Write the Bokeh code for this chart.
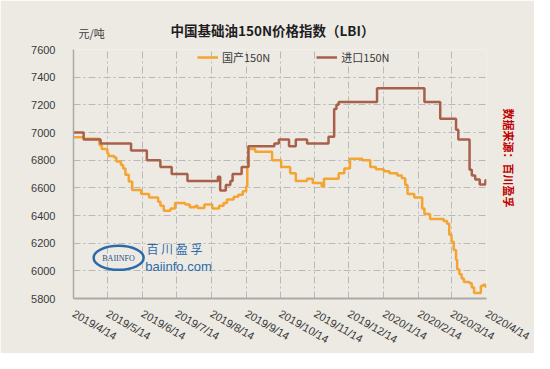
import pandas as pd
from math import pi
from bokeh.plotting import figure
from bokeh.models import (FixedTicker, Legend, LegendItem, Label, Range1d, ColumnDataSource,
                          Title, DatetimeAxis)
from bokeh.embed import file_html
from bokeh.resources import INLINE

# ---------------- data ----------------
title_text = "中国基础油150N价格指数（LBI）"
unit_text = "元/吨"
source_text = "数据来源：百川盈孚"
series_names = ["国产150N", "进口150N"]

dom_dates = ["2019-04-14", "2019-04-23", "2019-05-07", "2019-05-09", "2019-05-14", "2019-05-15",
             "2019-05-20", "2019-05-22", "2019-05-26", "2019-05-28", "2019-05-30", "2019-06-02",
             "2019-06-05", "2019-06-13", "2019-06-20", "2019-06-28", "2019-06-30", "2019-07-03",
             "2019-07-09", "2019-07-13", "2019-07-22", "2019-07-26", "2019-07-31", "2019-08-02",
             "2019-08-08", "2019-08-15", "2019-08-21", "2019-08-25", "2019-08-28", "2019-09-03",
             "2019-09-07", "2019-09-11", "2019-09-14", "2019-09-15", "2019-09-16", "2019-09-22",
             "2019-10-07", "2019-10-15", "2019-10-23", "2019-10-28", "2019-11-07", "2019-11-12",
             "2019-11-20", "2019-11-22", "2019-12-05", "2019-12-10", "2019-12-15", "2019-12-26",
             "2020-01-02", "2020-01-07", "2020-01-14", "2020-01-19", "2020-01-26", "2020-01-30",
             "2020-02-02", "2020-02-04", "2020-02-10", "2020-02-17", "2020-02-19", "2020-02-24",
             "2020-03-07", "2020-03-10", "2020-03-12", "2020-03-14", "2020-03-16", "2020-03-18",
             "2020-03-19", "2020-03-21", "2020-03-23", "2020-03-25", "2020-03-30", "2020-04-01",
             "2020-04-03", "2020-04-09", "2020-04-11", "2020-04-13", "2020-04-14"]
dom_vals = [6965, 6955, 6910, 6880, 6850, 6830,
            6820, 6790, 6765, 6740, 6695, 6645,
            6585, 6555, 6530, 6500, 6470, 6435,
            6450, 6490, 6480, 6460, 6470, 6455,
            6480, 6450, 6470, 6490, 6515, 6535,
            6550, 6575, 6610, 6750, 6880, 6860,
            6800, 6750, 6705, 6650, 6665, 6635,
            6610, 6665, 6705, 6740, 6810, 6800,
            6750, 6735, 6720, 6705, 6690, 6670,
            6620, 6555, 6530, 6450, 6410, 6375,
            6360, 6340, 6260, 6210, 6150, 6080,
            6010, 5975, 5945, 5920, 5910, 5880,
            5840, 5890, 5900, 5885, 5885]

imp_dates = ["2019-04-14", "2019-04-23", "2019-05-08", "2019-06-04", "2019-06-18", "2019-06-30",
             "2019-07-10", "2019-07-24", "2019-08-20", "2019-08-22", "2019-08-27", "2019-08-31",
             "2019-09-02", "2019-09-10", "2019-09-16", "2019-10-09", "2019-10-13", "2019-10-22",
             "2019-10-28", "2019-11-07", "2019-11-26", "2019-12-01", "2019-12-03", "2019-12-05",
             "2020-01-08", "2020-02-19", "2020-03-04", "2020-03-18", "2020-03-20", "2020-03-30",
             "2020-04-01", "2020-04-04", "2020-04-08", "2020-04-13", "2020-04-14"]
imp_vals = [7000, 6950, 6920, 6870, 6800, 6750,
            6700, 6650, 6680, 6580, 6620, 6650,
            6700, 6750, 6900, 6920, 6950, 6900,
            6950, 6920, 6970, 7170, 7200, 7220,
            7320, 7220, 7100, 7020, 6950, 6730,
            6690, 6660, 6625, 6655, 6655]

x_tick_dates = ["2019-04-14", "2019-05-14", "2019-06-14", "2019-07-14", "2019-08-14", "2019-09-14",
                "2019-10-14", "2019-11-14", "2019-12-14", "2020-01-14", "2020-02-14", "2020-03-14",
                "2020-04-14"]
x_tick_labels = ["2019/4/14", "2019/5/14", "2019/6/14", "2019/7/14", "2019/8/14", "2019/9/14",
                 "2019/10/14", "2019/11/14", "2019/12/14", "2020/1/14", "2020/2/14", "2020/3/14",
                 "2020/4/14"]
y_ticks = [5800, 6000, 6200, 6400, 6600, 6800, 7000, 7200, 7400, 7600]

# logo watermark text
logo_mark = "BAIINFO"
logo_cn = "百  川  盈  孚"
logo_url = "baiinfo.com"

# ---------------- style ----------------
BG = "#edeae4"
ORANGE = "#f4a531"
BROWN = "#a9604b"
GRID = "#b9b9b9"
LOGO = "#2d6aa8"
CJK = "Noto Sans CJK SC"
UNIT_AT = "2019-04-30"   # horizontal anchor of the unit text above the plot


def to_ms(d):
    return int((pd.Timestamp(d) - pd.Timestamp("1970-01-01")) // pd.Timedelta(milliseconds=1))


x_tick_ms = [to_ms(d) for d in x_tick_dates]

p = figure(width=534, height=353, x_axis_type="datetime", output_backend="svg",
           toolbar_location=None,
           x_range=Range1d(pd.Timestamp(x_tick_dates[0]), pd.Timestamp(x_tick_dates[-1])),
           y_range=Range1d(y_ticks[0], y_ticks[-1]),
           min_border_left=73, min_border_right=48, min_border_top=49, min_border_bottom=53)
p.background_fill_color = BG
p.border_fill_color = BG
p.outline_line_color = None

# unit text: an extra top axis with a single labelled tick (innermost top panel)
unit_ms = to_ms(UNIT_AT)
unit_axis = DatetimeAxis(ticker=FixedTicker(ticks=[unit_ms]),
                         major_label_overrides={unit_ms: unit_text},
                         axis_line_color=None, major_tick_line_color=None,
                         minor_tick_line_color=None, major_tick_out=0, minor_tick_out=0,
                         major_tick_in=0, minor_tick_in=0, major_label_standoff=9,
                         major_label_text_font=CJK, major_label_text_font_size="11px",
                         major_label_text_color="#3a3a3a")
p.add_layout(unit_axis, "above")

# title (outermost top panel, pulled down onto the unit's line)
p.title.text = title_text
p.title.align = "left"
p.title.offset = 97
p.title.standoff = -36
p.title.text_font = CJK
p.title.text_font_style = "bold"
p.title.text_font_size = "13.5px"
p.title.text_color = "#1e1e1e"

# data source note on the right, reading downward
p.add_layout(Title(text=source_text, align="left", offset=59, standoff=28,
                   text_font=CJK, text_font_style="bold", text_font_size="11px",
                   text_color="#c00000"), "right")

xt = FixedTicker(ticks=x_tick_ms)
yt = FixedTicker(ticks=y_ticks)
p.below[0].ticker = xt
p.yaxis.ticker = yt
p.xgrid.ticker = xt
p.ygrid.ticker = yt
for g in (p.xgrid, p.ygrid):
    g.grid_line_color = GRID
    g.grid_line_dash = "7 3 2 3"
    g.grid_line_width = 1

xax = p.below[0]
xax.major_label_overrides = {ms: lab for ms, lab in zip(x_tick_ms, x_tick_labels)}
xax.major_label_orientation = -pi / 6
xax.major_label_standoff = 8
p.yaxis.major_label_standoff = 12
for ax in (xax, p.yaxis[0]):
    ax.major_tick_line_color = None
    ax.minor_tick_line_color = None
    ax.axis_line_color = "#a9a9a9"
    ax.major_label_text_font = "Liberation Sans"
    ax.major_label_text_font_size = "11px"
    ax.major_label_text_color = "#3a3a3a"
xax.axis_line_width = 2
p.yaxis.axis_line_width = 1.5

dom_src = ColumnDataSource(dict(x=pd.to_datetime(dom_dates), y=dom_vals))
imp_src = ColumnDataSource(dict(x=pd.to_datetime(imp_dates), y=imp_vals))
r_dom = p.step("x", "y", source=dom_src, mode="after", line_color=ORANGE, line_width=2.5)
r_imp = p.step("x", "y", source=imp_src, mode="after", line_color=BROWN, line_width=2.5)

legend = Legend(items=[LegendItem(label=series_names[0], renderers=[r_dom]),
                       LegendItem(label=series_names[1], renderers=[r_imp])],
                orientation="horizontal", location=(124, 233),
                background_fill_alpha=0, border_line_color=None, padding=0, margin=0,
                spacing=46, glyph_width=21, glyph_height=12, label_height=12,
                label_standoff=4, label_text_font=CJK, label_text_font_size="11px",
                label_text_color="#3a3a3a")
p.add_layout(legend)

# logo watermark
logo_x = pd.Timestamp(x_tick_dates[0]) + pd.Timedelta(days=40)
p.ellipse(x=[logo_x], y=[6094], width=50, height=24, width_units="screen",
          height_units="screen", fill_color=None, line_color=LOGO, line_width=2.5)
p.add_layout(Label(x=45, y=40, x_units="screen", y_units="screen", text=logo_mark,
                   text_align="center", text_baseline="middle", text_font="Liberation Serif",
                   text_font_size="8px", text_color="#1f4e8c"))
p.add_layout(Label(x=105, y=50, x_units="screen", y_units="screen", text=logo_cn,
                   text_align="center", text_baseline="middle", text_font=CJK,
                   text_font_size="12px", text_color=LOGO))
p.add_layout(Label(x=105, y=32, x_units="screen", y_units="screen", text=logo_url,
                   text_align="center", text_baseline="middle", text_font="Liberation Sans",
                   text_font_size="13px", text_color=LOGO))

open("out.html", "w").write(file_html(p, INLINE))
